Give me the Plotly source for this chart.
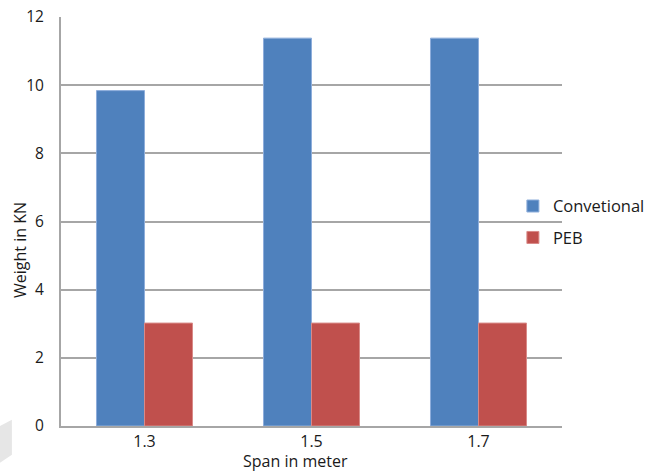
import plotly.graph_objects as go

spans = ["1.3", "1.5", "1.7"]
conventional = [9.84, 11.38, 11.38]
peb = [3.02, 3.02, 3.02]
y_ticks = [0, 2, 4, 6, 8, 10, 12]

FONT = "'Open Sans', sans-serif"
BLUE = "#4F81BD"
RED = "#C0504D"
TXT = "#1a1a1a"

fig = go.Figure()
fig.add_trace(go.Bar(
    x=spans, y=conventional, name="Convetional",
    marker=dict(color=BLUE, line=dict(color="#8EAEDB", width=1)),
    legendgroup="a",
))
fig.add_trace(go.Bar(
    x=spans, y=peb, name="PEB",
    marker=dict(color=RED, line=dict(color="#D98A88", width=1)),
    legendgroup="b",
))

fig.update_layout(
    width=660, height=471,
    margin=dict(l=61, r=98, t=17, b=45, autoexpand=False),
    paper_bgcolor="white", plot_bgcolor="white",
    barmode="group", bargap=0.425, bargroupgap=0,
    font=dict(family=FONT, size=15, color=TXT),
    showlegend=True,
    legend=dict(
        x=0.902, y=0.58, xanchor="left", yanchor="top",
        font=dict(family=FONT, size=16.5, color=TXT),
        tracegroupgap=7, traceorder="grouped",
        itemwidth=30, bgcolor="rgba(0,0,0,0)",
    ),
    xaxis=dict(
        type="category", showgrid=False,
        showline=True, linecolor="#A6A6A6", linewidth=2,
        ticks="", tickfont=dict(size=16, color=TXT),
        zeroline=False,
    ),
    yaxis=dict(
        range=[0, 12], tickvals=y_ticks,
        showgrid=True, gridcolor="#A6A6A6", gridwidth=2,
        showline=True, linecolor="#A6A6A6", linewidth=2,
        zeroline=False, ticks="", ticklabelstandoff=12,
        tickfont=dict(size=15.5, color=TXT),
    ),
    annotations=[
        dict(text="Span in meter", xref="paper", yref="paper",
             x=(295 - 61) / 501, y=-(461 - 426) / 409,
             xanchor="center", yanchor="middle", showarrow=False,
             font=dict(family=FONT, size=16, color=TXT)),
        dict(text="Weight in KN", xref="paper", yref="paper",
             x=-(61 - 20) / 501, y=(426 - 250) / 409,
             xanchor="center", yanchor="middle", showarrow=False,
             textangle=-90,
             font=dict(family=FONT, size=16, color=TXT)),
    ],
    shapes=[
        dict(type="path", xref="paper", yref="paper",
             path="M -0.122 -0.0 L -0.098 0.015 L -0.098 -0.07 L -0.122 -0.09 Z",
             fillcolor="#E6E6E6", line=dict(width=0), layer="below"),
    ],
)

fig.write_html("out.html")
